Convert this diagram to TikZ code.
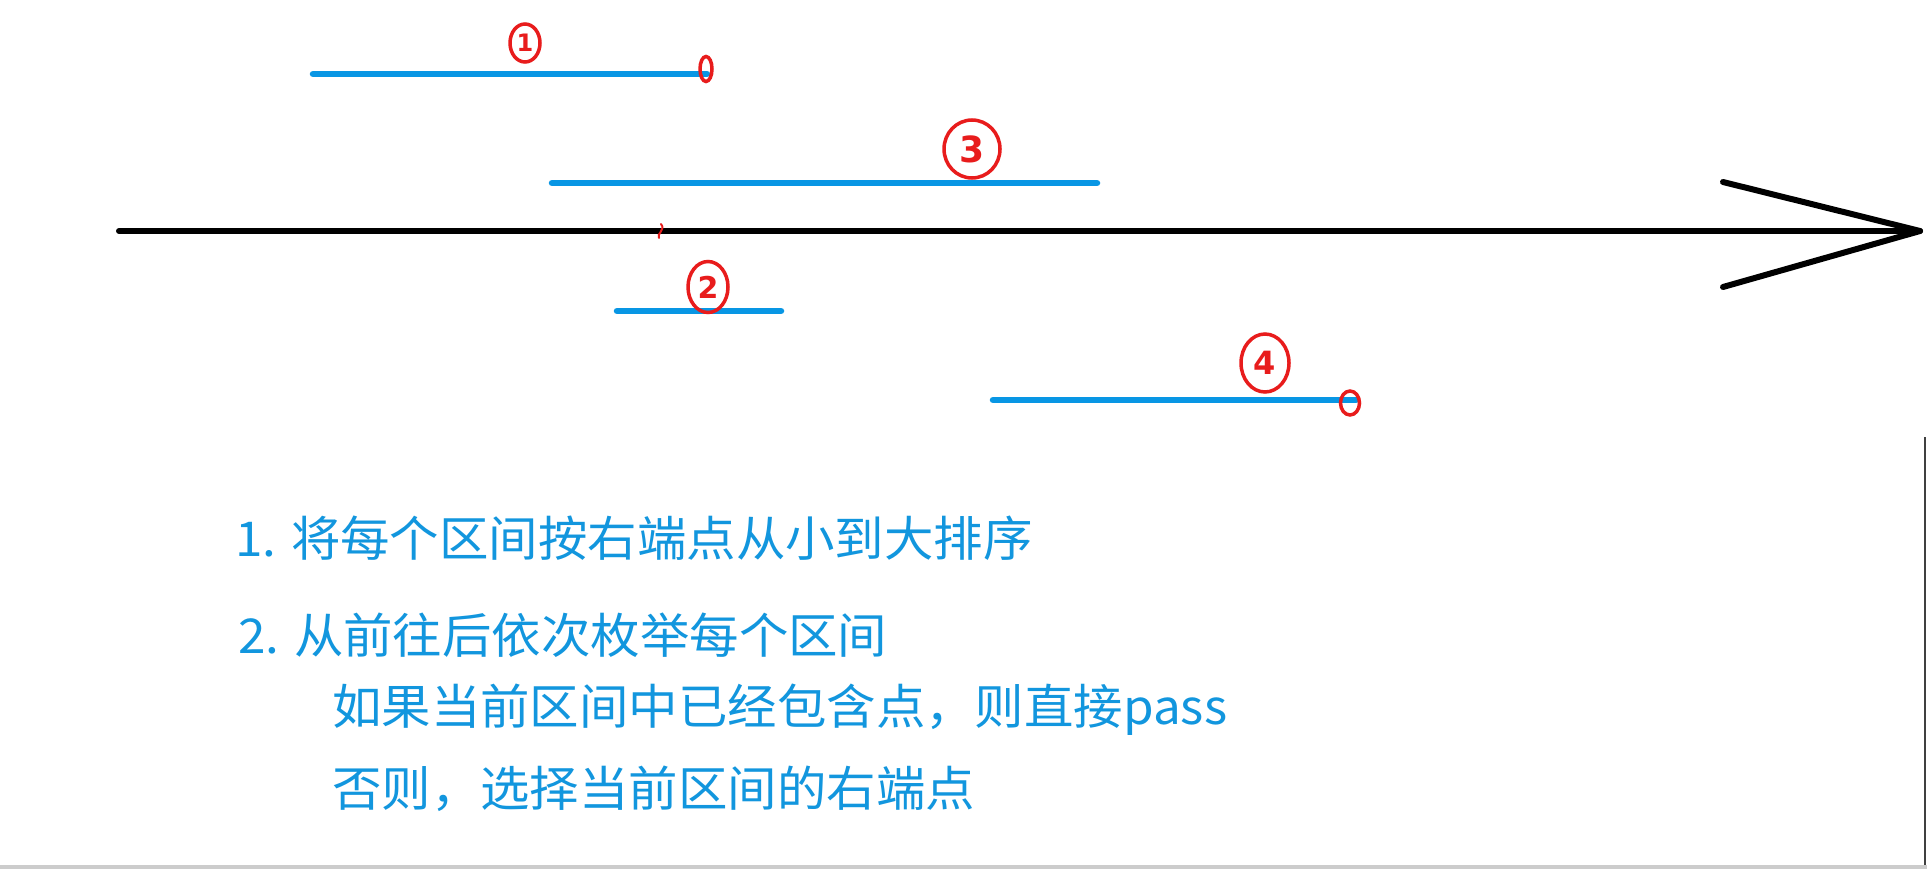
\documentclass[tikz,border=0pt]{standalone}
\usepackage{fontspec}
\newfontfamily\cjk[FakeStretch=1.03]{Noto Sans CJK SC}
\newfontfamily\penfont{DejaVu Sans}
\usepackage{xcolor}
\usepackage{tikz}
\usetikzlibrary{shapes.geometric}

\definecolor{segblue}{RGB}{8,150,228}
\definecolor{txtblue}{RGB}{18,150,222}
\definecolor{penred}{RGB}{232,28,28}

\begin{document}
\begin{tikzpicture}[
    x=1pt, y=-1pt,
    axisline/.style={black,line width=6pt,line cap=round,line join=round},
    segline/.style={segblue,line width=6.5pt,line cap=round},
    penmark/.style={draw=penred,ellipse,line width=3.5pt,inner sep=0pt},
    penlabel/.style={penmark,text=penred},
    steptext/.style={anchor=base west,inner sep=0pt,text=txtblue,
                     font=\cjk\fontsize{48}{56}\selectfont},
  ]
  \useasboundingbox (0,0) rectangle (1927,869);
  \fill[white] (0,0) rectangle (1927,869);

  % --- number line ---
  \coordinate (ax0) at (119,231);
  \coordinate (ax1) at (1920,231);
  \coordinate (arm1) at (1723,182);
  \coordinate (arm2) at (1723,287);
  \draw[axisline] (ax0) -- (ax1);
  \draw[axisline] (arm1) -- (ax1) -- (arm2);

  % --- intervals ---
  \coordinate (s1l) at (313,74);   \coordinate (s1r) at (707,74);
  \coordinate (s3l) at (552,183);  \coordinate (s3r) at (1097,183);
  \coordinate (s2l) at (617,311);  \coordinate (s2r) at (781,311);
  \coordinate (s4l) at (993,400);  \coordinate (s4r) at (1356,400);
  \draw[segline] (s1l) -- (s1r);
  \draw[segline] (s3l) -- (s3r);
  \draw[segline] (s2l) -- (s2r);
  \draw[segline] (s4l) -- (s4r);

  % --- red pen marks ---
  \node[penlabel,minimum width=30pt,minimum height=38pt,
        font=\penfont\bfseries\fontsize{24}{24}\selectfont] (n1) at (525,43) {1};
  \node[penlabel,minimum width=56pt,minimum height=58pt,
        font=\penfont\bfseries\fontsize{36}{36}\selectfont] (n3) at (972,149) {3};
  \node[penlabel,minimum width=40pt,minimum height=51pt,
        font=\penfont\bfseries\fontsize{30}{30}\selectfont] (n2) at (708,287) {2};
  \node[penlabel,minimum width=48pt,minimum height=58pt,
        font=\penfont\bfseries\fontsize{32}{32}\selectfont] (n4) at (1265,363) {4};
  \node[penmark,minimum width=12pt,minimum height=25pt] (p1) at (706,69) {};
  \node[penmark,minimum width=19pt,minimum height=24pt] (p4) at (1350,403) {};
  \draw[penred,line width=2pt,line cap=round]
    (661,224) .. controls (666,230) and (656,234) .. (659,238);

  % --- steps ---
  \node[steptext] (t1) at (235,556) {1. 将每个区间按右端点从小到大排序};
  \node[steptext] (t2) at (238,653) {2. 从前往后依次枚举每个区间};
  \node[steptext] (t3) at (332,724) {如果当前区间中已经包含点，则直接pass};
  \node[steptext] (t4) at (332,806) {否则，选择当前区间的右端点};

  % --- window edges ---
  \fill[gray!40] (0,865) rectangle (1927,869);
  \draw[black!75,line width=2pt] (1925,437) -- (1925,865);
\end{tikzpicture}
\end{document}
